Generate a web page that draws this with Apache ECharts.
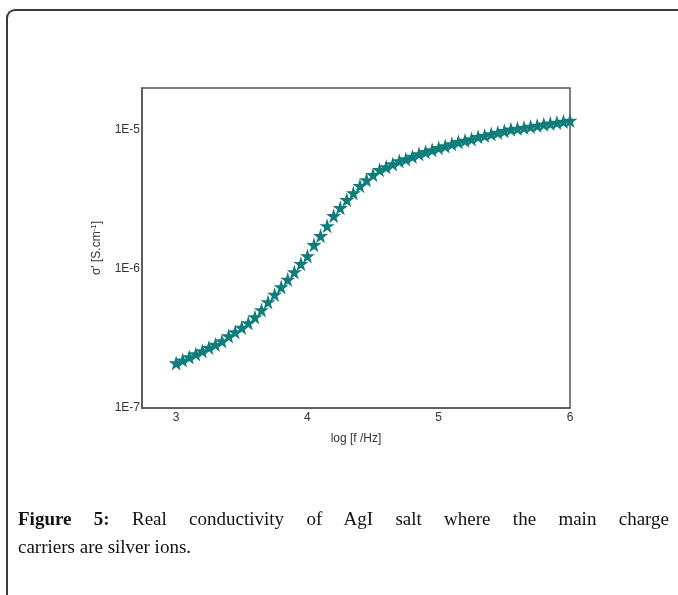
<!DOCTYPE html>
<html>
<head>
<meta charset="UTF-8">
<title>Real conductivity of AgI</title>
<script type="text/javascript" src="https://cdn.jsdelivr.net/npm/echarts@6/dist/echarts.min.js"></script>
<style>
  html, body { margin: 0; width: 678px; height: 595px; overflow: hidden; background: #fff; }
  body { position: relative; }
  #container { position: absolute; left: 0; top: 0; width: 678px; height: 595px; }
  #frame { position: absolute; left: 6px; top: 9px; width: 690px; height: 700px; border: 2px solid #3a3a3a; border-right: none; border-radius: 9px 0 0 0; }
  #caption { position: absolute; left: 18px; top: 505px; width: 651px; font-family: "Liberation Serif", serif; font-size: 19px; line-height: 28px; color: #111; }
  #caption .l1 { text-align: justify; text-align-last: justify; }
</style>
</head>
<body>
<div id="frame"></div>
<div id="container"></div>
<div id="caption">
  <div class="l1"><b>Figure 5:</b> Real conductivity of AgI salt where the main charge</div>
  <div>carriers are silver ions.</div>
</div>
<script type="text/javascript">
  // log f values (every 0.05 decade)
  var logF = [
    3.00, 3.05, 3.10, 3.15, 3.20, 3.25, 3.30, 3.35, 3.40, 3.45,
    3.50, 3.55, 3.60, 3.65, 3.70, 3.75, 3.80, 3.85, 3.90, 3.95,
    4.00, 4.05, 4.10, 4.15, 4.20, 4.25, 4.30, 4.35, 4.40, 4.45,
    4.50, 4.55, 4.60, 4.65, 4.70, 4.75, 4.80, 4.85, 4.90, 4.95,
    5.00, 5.05, 5.10, 5.15, 5.20, 5.25, 5.30, 5.35, 5.40, 5.45,
    5.50, 5.55, 5.60, 5.65, 5.70, 5.75, 5.80, 5.85, 5.90, 5.95,
    6.00
  ];
  // sigma' in S/cm
  var sigma = [
    2.11e-7, 2.21e-7, 2.33e-7, 2.45e-7, 2.57e-7, 2.72e-7, 2.86e-7, 3.03e-7, 3.30e-7, 3.52e-7,
    3.79e-7, 4.09e-7, 4.52e-7, 5.07e-7, 5.79e-7, 6.56e-7, 7.42e-7, 8.40e-7, 9.51e-7, 1.09e-6,
    1.24e-6, 1.49e-6, 1.73e-6, 2.04e-6, 2.41e-6, 2.75e-6, 3.14e-6, 3.52e-6, 3.96e-6, 4.37e-6,
    4.75e-6, 5.16e-6, 5.42e-6, 5.69e-6, 5.98e-6, 6.18e-6, 6.44e-6, 6.72e-6, 6.95e-6, 7.18e-6,
    7.43e-6, 7.67e-6, 7.93e-6, 8.20e-6, 8.40e-6, 8.61e-6, 8.91e-6, 9.12e-6, 9.35e-6, 9.59e-6,
    9.84e-6, 1.009e-5, 1.025e-5, 1.042e-5, 1.059e-5, 1.077e-5, 1.096e-5, 1.114e-5, 1.132e-5, 1.151e-5,
    1.170e-5
  ];
  var xTicks = [3, 4, 5, 6];

  var points = logF.map(function (f, i) { return [f, sigma[i]]; });

  var star = 'path://M50,0 L61,35 L98,35 L68,57 L79,91 L50,70 L21,91 L32,57 L2,35 L39,35 Z';
  var axisColor = '#555';

  var myChart = echarts.init(document.getElementById('container'));
  var option = {
    animation: false,
    grid: {
      left: 142, top: 88, right: 108, bottom: 187,
      show: true, borderColor: axisColor, borderWidth: 1.5, backgroundColor: 'transparent'
    },
    xAxis: {
      type: 'value',
      min: 2.74, max: 6,
      name: 'log [f /Hz]',
      nameLocation: 'middle',
      nameGap: 25,
      nameTextStyle: { fontFamily: 'Liberation Sans', fontSize: 12, color: '#333' },
      axisLine: { show: true, lineStyle: { color: axisColor, width: 1.5 } },
      axisTick: { show: false },
      splitLine: { show: false },
      axisLabel: {
        customValues: xTicks,
        margin: 4,
        fontFamily: 'Liberation Sans', fontSize: 12, color: '#333'
      }
    },
    yAxis: {
      type: 'log',
      logBase: 10,
      min: 1e-7, max: 2e-5,
      name: "{a|σ' [S.cm}{s|-1}{a|]}",
      nameLocation: 'middle',
      nameRotate: 90,
      nameGap: 38,
      nameTextStyle: {
        rich: {
          a: { fontFamily: 'Liberation Sans', fontSize: 12, color: '#333', lineHeight: 14 },
          s: { fontFamily: 'Liberation Sans', fontSize: 8, color: '#333', verticalAlign: 'top', lineHeight: 14, padding: [0, 0, 6, 0] }
        }
      },
      axisLine: { show: true, lineStyle: { color: axisColor, width: 1.5 } },
      axisTick: { show: false },
      minorTick: { show: false },
      splitLine: { show: false },
      axisLabel: {
        margin: 2,
        fontFamily: 'Liberation Sans', fontSize: 12, color: '#333',
        formatter: function (v) {
          var e = Math.log10(v);
          if (Math.abs(e - Math.round(e)) > 1e-6) return '';
          return '1E' + Math.round(e);
        }
      }
    },
    series: [{
      type: 'scatter',
      data: points,
      symbol: star,
      symbolSize: 15,
      itemStyle: { color: '#0f7d7a', opacity: 1 }
    }]
  };
  myChart.setOption(option);
</script>
</body>
</html>
